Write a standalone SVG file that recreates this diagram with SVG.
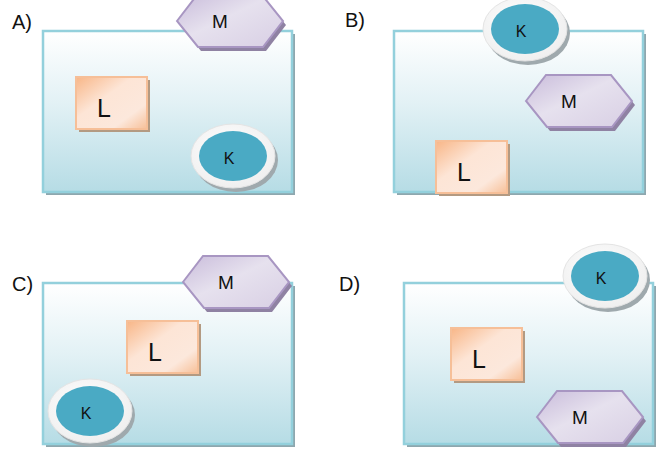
<svg xmlns="http://www.w3.org/2000/svg" width="669" height="454" viewBox="0 0 669 454">
  <defs>
    <linearGradient id="panelFill" x1="0" y1="0" x2="0" y2="1">
      <stop offset="0" stop-color="#ffffff"/>
      <stop offset="0.45" stop-color="#e2f1f5"/>
      <stop offset="1" stop-color="#b6dce5"/>
    </linearGradient>
    <linearGradient id="lFill" x1="0" y1="0" x2="1" y2="1">
      <stop offset="0" stop-color="#f8b687"/>
      <stop offset="0.4" stop-color="#fde5d6"/>
      <stop offset="0.75" stop-color="#fce8dc"/>
      <stop offset="1" stop-color="#f7bf97"/>
    </linearGradient>
    <linearGradient id="mFill" x1="0" y1="0" x2="1" y2="1">
      <stop offset="0" stop-color="#c9bcdb"/>
      <stop offset="0.45" stop-color="#e6e1ee"/>
      <stop offset="1" stop-color="#d8cfe4"/>
    </linearGradient>
    <radialGradient id="ringFill" cx="0.45" cy="0.4" r="0.65">
      <stop offset="0" stop-color="#ffffff"/>
      <stop offset="1" stop-color="#eeeeee"/>
    </radialGradient>

    <!-- reusable shapes, drawn at origin -->
    <g id="panel">
      <rect x="3" y="3" width="249" height="161" fill="#8ea7ae"/>
      <rect x="0" y="0" width="249" height="161" fill="url(#panelFill)" stroke="#93d0dc" stroke-width="2.5"/>
    </g>
    <g id="lBox">
      <rect x="3" y="3" width="71" height="52" fill="#b39a82"/>
      <rect x="0" y="0" width="71" height="52" fill="url(#lFill)" stroke="#f6bf98" stroke-width="2"/>
      <text x="28" y="40" class="lbl" font-size="25" text-anchor="middle">L</text>
    </g>
    <g id="mHex">
      <path d="M3,30 L23,4 L88,4 L109,30 L89,56 L24,56 Z" fill="#8f82a3"/>
      <path d="M0,26 L20,0 L85,0 L106,26 L86,52 L21,52 Z" fill="url(#mFill)" stroke="#a896c2" stroke-width="2"/>
      <text x="43" y="33" class="lbl" font-size="19" text-anchor="middle">M</text>
    </g>
    <g id="kDisc">
      <ellipse cx="3" cy="4" rx="42" ry="32" fill="#9fa9ad"/>
      <ellipse cx="0" cy="0" rx="42" ry="32" fill="url(#ringFill)" stroke="#e4e4e4" stroke-width="1"/>
      <ellipse cx="0" cy="0" rx="34" ry="25" fill="#4aaac4"/>
      <text x="-4" y="8" class="lbl" font-size="16" text-anchor="middle">K</text>
    </g>
    <style>
      .lbl { font-family: "Liberation Sans", Arial, sans-serif; fill: #111111; }
      .cap { font-family: "Liberation Sans", Arial, sans-serif; font-size: 20px; fill: #111111; }
    </style>
  </defs>

  <!-- Option A -->
  <g id="optionA">
    <text class="cap" x="12" y="29">A)</text>
    <use href="#panel" x="43" y="31"/>
    <g id="A-L"><use href="#lBox" x="76" y="77"/></g>
    <g id="A-K"><use href="#kDisc" x="233" y="156"/></g>
    <g id="A-M"><use href="#mHex" x="177" y="-5"/></g>
  </g>

  <!-- Option B -->
  <g id="optionB">
    <text class="cap" x="345" y="27">B)</text>
    <use href="#panel" x="394" y="31"/>
    <g id="B-M"><use href="#mHex" x="526" y="75"/></g>
    <g id="B-L"><use href="#lBox" x="436" y="141"/></g>
    <g id="B-K"><use href="#kDisc" x="525" y="29"/></g>
  </g>

  <!-- Option C -->
  <g id="optionC">
    <text class="cap" x="12" y="291">C)</text>
    <use href="#panel" x="43" y="283"/>
    <g id="C-L"><use href="#lBox" x="127" y="321"/></g>
    <g id="C-K"><use href="#kDisc" x="90" y="411"/></g>
    <g id="C-M"><use href="#mHex" x="183" y="256"/></g>
  </g>

  <!-- Option D -->
  <g id="optionD">
    <text class="cap" x="339" y="291">D)</text>
    <use href="#panel" x="404" y="283"/>
    <g id="D-L"><use href="#lBox" x="451" y="328"/></g>
    <g id="D-M"><use href="#mHex" x="537" y="391"/></g>
    <g id="D-K"><use href="#kDisc" x="605" y="276"/></g>
  </g>

  <!-- no connectors in this figure -->
  <g id="connectors"/>
</svg>
